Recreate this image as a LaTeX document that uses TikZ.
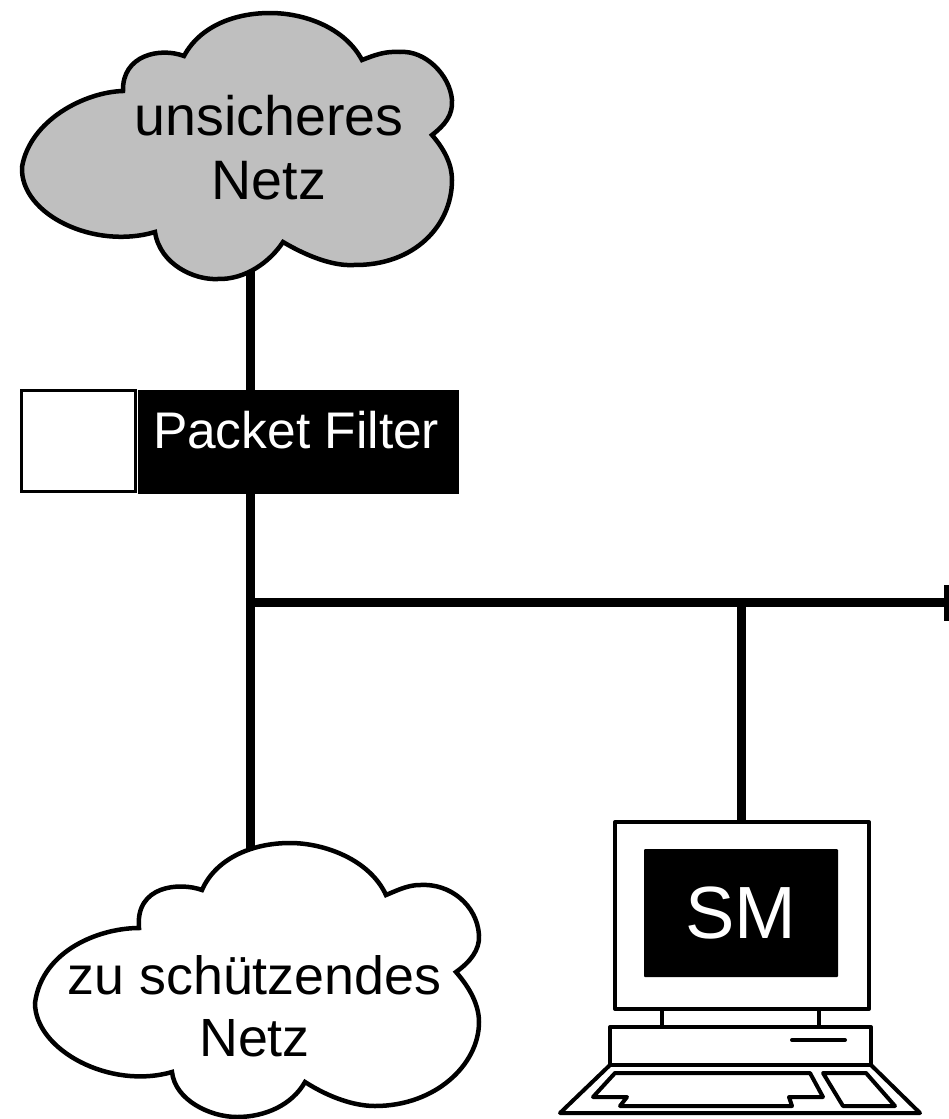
\documentclass[tikz,border=0pt]{standalone}
\usepackage{fontspec}
\setmainfont{Liberation Sans}
\usetikzlibrary{calc,backgrounds}
\tikzset{
  net_line/.style = {line width=9pt},
  pc_line/.style = {line width=4pt, line join=round},
  cloud_n/.style = {line width=4.5pt, line join=miter},
  net_text/.style = {align=center, inner sep=0pt, text centered},
  filter_n/.style = {net_text, white, fill=black, minimum width=320.6pt, minimum height=104.5pt, text height=40pt, text depth=27pt, font=\fontsize{51.5}{60}\selectfont},
  filter_r/.style = {draw=black, line width=3.3pt, fill=white, minimum width=114pt, minimum height=101pt, inner sep=0pt},
  screen_n/.style = {net_text, white, fill=black, rounded corners=1pt, minimum width=194pt, minimum height=128pt, font=\fontsize{74}{80}\selectfont}
}

\begin{document}
\begin{tikzpicture}[x=1pt,y=-1pt]
	\useasboundingbox (0,0) rectangle (949,1119);
	\node [filter_n] (filter) at (298.6,442) {Packet Filter\hspace{5pt}};
	\node [filter_r] (blank) at (78.7,441) {};
	\coordinate (upper) at (250.5,270);
	\coordinate (lower) at (250.5,860);
	\coordinate (junction) at (250.5,602.3);
	\coordinate (busend) at (946.5,602.3);
	\coordinate (tap) at (741.5,602.3);
	\coordinate (pctop) at (741.5,822);
	\begin{scope}[on background layer]
		\draw [net_line] (upper) -- (upper |- filter);
		\draw [net_line] (lower |- filter) -- (lower);
	\end{scope}
	\draw [net_line] (junction) -- (busend);
	\draw [line width=5pt] ($(busend)+(0,-17.5)$) -- ($(busend)+(0,18.5)$);
	\draw [net_line] (tap) -- (pctop);
	\draw [cloud_n, fill=black!25] (123,91)
		.. controls (85,92) and (30,120) .. (22,167)
		.. controls (20,215) and (95,250) .. (155,232)
		.. controls (160,265) and (195,280) .. (217,279)
		.. controls (245,280) and (270,262) .. (283,242)
		.. controls (310,258) and (335,266) .. (353,265)
		.. controls (415,266) and (452,225) .. (452,180)
		.. controls (452,165) and (445,150) .. (432,135)
		.. controls (445,125) and (453,115) .. (452,100)
		.. controls (450,75) and (425,50) .. (400,52)
		.. controls (385,51) and (375,55) .. (362,60)
		.. controls (345,28) and (305,13) .. (270,13)
		.. controls (235,13) and (200,26) .. (184,56)
		.. controls (160,47) and (122,55) .. (123,91) -- cycle;
	\node [net_text, font=\fontsize{55.6}{64}\selectfont] (unsafe) at (269,148) {unsicheres\\Netz};
	\draw [cloud_n, fill=white] (139,928)
		.. controls (100,928) and (42,950) .. (35,1003)
		.. controls (35,1050) and (110,1090) .. (172,1072)
		.. controls (175,1100) and (210,1117) .. (237,1117)
		.. controls (265,1117) and (292,1105) .. (305,1082)
		.. controls (330,1098) and (355,1106) .. (375,1106)
		.. controls (435,1106) and (479,1065) .. (479,1022)
		.. controls (479,1005) and (470,988) .. (456,972)
		.. controls (470,962) and (480,950) .. (479,935)
		.. controls (477,905) and (450,883) .. (420,885)
		.. controls (408,885) and (398,890) .. (386,895)
		.. controls (370,860) and (325,843) .. (290,843)
		.. controls (250,843) and (215,860) .. (202,890)
		.. controls (180,882) and (135,885) .. (139,928) -- cycle;
	\node [net_text, font=\fontsize{53.8}{62}\selectfont] (safe) at (254.5,1006.5) {zu schützendes\\Netz};
	\draw [pc_line, fill=white] (615,822) rectangle (869,1009);
	\node [screen_n] (screen) at (741,913) {SM};
	\draw [pc_line] (662,1009) -- (662,1026);
	\draw [pc_line] (819,1009) -- (819,1026);
	\draw [pc_line] (610,1027) rectangle (871,1065);
	\draw [pc_line, line cap=round] (792,1040) -- (845,1040);
	\draw [pc_line] (610,1065) -- (560,1113) -- (920,1113) -- (871,1065);
	\draw [pc_line] (615,1073) -- (810,1073) -- (823,1097) -- (789,1097) -- (792,1106) -- (620,1106) -- (627,1097) -- (593,1097) -- cycle;
	\draw [pc_line] (823,1073) -- (866,1073) -- (895,1106) -- (843,1106) -- cycle;
\end{tikzpicture}
\end{document}
